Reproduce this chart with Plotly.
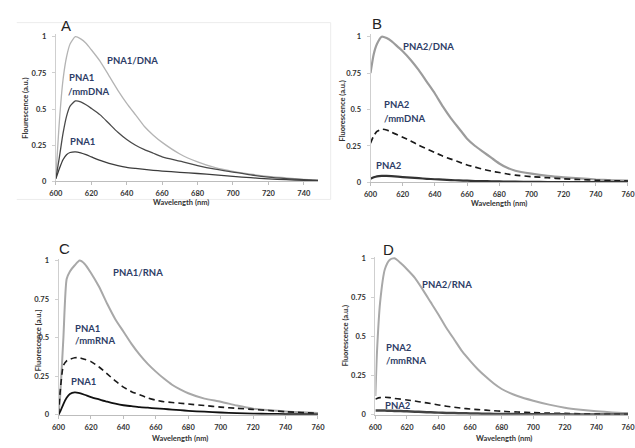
import plotly.graph_objects as go

W, H = 635, 448

# ---------------- data ----------------
wl_a = [600, 602, 604, 606, 608, 611, 614, 617, 620, 625, 630, 635, 640, 645, 650, 655, 660,
        670, 680, 690, 700, 710, 720, 730, 740, 748]
a_pna1_dna = [0.03, 0.42, 0.70, 0.86, 0.95, 1.0, 0.985, 0.955, 0.91, 0.83, 0.73, 0.63, 0.54, 0.46,
              0.38, 0.32, 0.27, 0.19, 0.135, 0.095, 0.07, 0.05, 0.035, 0.025, 0.015, 0.01]
a_pna1_mmdna = [0.02, 0.17, 0.33, 0.45, 0.52, 0.556, 0.55, 0.53, 0.505, 0.46, 0.40, 0.34, 0.29,
                0.25, 0.22, 0.195, 0.17, 0.14, 0.11, 0.085, 0.065, 0.045, 0.03, 0.02, 0.012, 0.008]
a_pna1 = [0.02, 0.09, 0.15, 0.185, 0.2, 0.205, 0.198, 0.185, 0.17, 0.145, 0.125, 0.11, 0.098,
          0.09, 0.083, 0.077, 0.072, 0.063, 0.055, 0.045, 0.035, 0.026, 0.018, 0.012, 0.008, 0.006]

wl_b = [600, 602, 604, 607, 610, 613, 617, 620, 625, 630, 635, 640, 645, 650, 655, 660, 665, 670,
        675, 680, 685, 690, 700, 710, 720, 730, 740, 750, 760]
b_pna2_dna = [0.75, 0.88, 0.95, 1.0, 0.99, 0.97, 0.93, 0.90, 0.84, 0.77, 0.69, 0.61, 0.52, 0.44,
              0.37, 0.30, 0.25, 0.21, 0.17, 0.13, 0.10, 0.08, 0.06, 0.045, 0.035, 0.028, 0.02,
              0.015, 0.012]
b_pna2_mmdna = [0.27, 0.32, 0.35, 0.365, 0.36, 0.345, 0.325, 0.31, 0.285, 0.255, 0.23, 0.205,
                0.18, 0.16, 0.14, 0.12, 0.105, 0.09, 0.078, 0.068, 0.058, 0.05, 0.04, 0.032,
                0.025, 0.02, 0.015, 0.012, 0.01]
b_pna2 = [0.025, 0.035, 0.042, 0.045, 0.045, 0.043, 0.04, 0.037, 0.033, 0.029, 0.025, 0.022,
          0.019, 0.016, 0.014, 0.012, 0.01, 0.009, 0.008, 0.007, 0.006, 0.005, 0.004, 0.003,
          0.003, 0.002, 0.002, 0.002, 0.002]

wl_c = [600, 601, 603, 605, 607, 610, 613, 616, 620, 625, 630, 635, 640, 645, 650, 655, 660, 665,
        670, 675, 680, 690, 700, 710, 720, 730, 740, 750, 760]
c_pna1_rna = [0.0, 0.12, 0.50, 0.88, 0.93, 0.97, 1.0, 0.98, 0.92, 0.83, 0.72, 0.62, 0.54, 0.46,
              0.39, 0.33, 0.28, 0.235, 0.195, 0.165, 0.14, 0.105, 0.085, 0.06, 0.04, 0.03,
              0.022, 0.016, 0.012]
c_pna1_mmrna = [0.0, 0.15, 0.32, 0.35, 0.36, 0.37, 0.37, 0.36, 0.345, 0.31, 0.265, 0.22, 0.18,
                0.15, 0.13, 0.11, 0.095, 0.085, 0.08, 0.075, 0.07, 0.06, 0.05, 0.042, 0.035,
                0.028, 0.02, 0.015, 0.01]
c_pna1 = [0.0, 0.02, 0.07, 0.11, 0.135, 0.145, 0.14, 0.13, 0.115, 0.10, 0.085, 0.072, 0.062,
          0.056, 0.05, 0.046, 0.042, 0.038, 0.034, 0.03, 0.026, 0.02, 0.015, 0.011, 0.008,
          0.006, 0.005, 0.004, 0.003]

wl_d = [600, 601, 603, 606, 609, 612, 616, 620, 625, 630, 635, 640, 645, 650, 655, 660, 665, 670,
        675, 680, 685, 690, 700, 710, 720, 730, 740, 750, 760]
d_pna2_rna = [0.12, 0.40, 0.72, 0.93, 0.99, 1.0, 0.97, 0.93, 0.875, 0.80, 0.72, 0.64, 0.555,
              0.48, 0.405, 0.345, 0.29, 0.243, 0.20, 0.165, 0.14, 0.12, 0.09, 0.065, 0.045,
              0.032, 0.022, 0.015, 0.011]
d_pna2_mmrna = [0.10, 0.105, 0.11, 0.112, 0.11, 0.105, 0.10, 0.095, 0.088, 0.08, 0.072, 0.063,
                0.055, 0.048, 0.042, 0.037, 0.033, 0.03, 0.026, 0.023, 0.02, 0.018, 0.014,
                0.011, 0.009, 0.007, 0.006, 0.005, 0.004]
d_pna2 = [0.028, 0.028, 0.028, 0.027, 0.026, 0.025, 0.024, 0.022, 0.02, 0.018, 0.016, 0.014,
          0.012, 0.011, 0.01, 0.009, 0.008, 0.007, 0.006, 0.005, 0.005, 0.004, 0.004, 0.003,
          0.003, 0.002, 0.002, 0.002, 0.002]

x_ticks = [600, 620, 640, 660, 680, 700, 720, 740, 760]
y_ticks = [0, 0.25, 0.5, 0.75, 1]
y_tick_text = ["0", "0.25", "0.5", "0.75", "1"]

# ---------------- helpers ----------------
def px(x):
    return x / W

def py(y):
    return 1 - y / H

fig = go.Figure()

def line(x, y, ax, color, width, dash="solid"):
    fig.add_trace(go.Scatter(
        x=x, y=y, mode="lines", xaxis="x" + ax, yaxis="y" + ax,
        line=dict(color=color, width=width, dash=dash, shape="spline", smoothing=0.6),
        showlegend=False, hoverinfo="skip"))

line(wl_a, a_pna1_dna, "", "#b4b4b4", 1.3)
line(wl_a, a_pna1_mmdna, "", "#4a4a4a", 1.3)
line(wl_a, a_pna1, "", "#3c3c3c", 1.3)

line(wl_b, b_pna2_dna, "2", "#9c9c9c", 2.2)
line(wl_b, b_pna2_mmdna, "2", "#1a1a1a", 1.7, "6px,4px")
line(wl_b, b_pna2, "2", "#333333", 2.2)

line(wl_c, c_pna1_rna, "3", "#a8a8a8", 2.0)
line(wl_c, c_pna1_mmrna, "3", "#1a1a1a", 1.6, "6px,4px")
line(wl_c, c_pna1, "3", "#111111", 1.8)

line(wl_d, d_pna2_rna, "4", "#a8a8a8", 2.0)
line(wl_d, d_pna2_mmrna, "4", "#1a1a1a", 1.6, "6px,4px")
line(wl_d, d_pna2, "4", "#444444", 2.5)

tickfont = dict(family="Lato", size=7.5, color="#333333", weight="bold")

def xaxis(dom, rng, anchor):
    return dict(domain=dom, range=rng, anchor=anchor, tickvals=x_ticks, ticks="outside",
                ticklen=3, tickcolor="#bdbdbd", showline=True, linecolor="#bdbdbd",
                linewidth=1, showgrid=False, zeroline=False, tickfont=tickfont,
                ticklabelstandoff=2, ticklabeloverflow="allow")

def yaxis(dom, rng, anchor):
    return dict(domain=dom, range=rng, anchor=anchor, tickvals=y_ticks, ticktext=y_tick_text,
                ticks="outside", ticklen=3, tickcolor="#cfcfcf", showline=True,
                linecolor="#cfcfcf", linewidth=1, showgrid=False, zeroline=False,
                tickfont=tickfont, ticklabelstandoff=4)

fig.update_layout(
    width=W, height=H, margin=dict(l=0, r=0, t=0, b=0),
    paper_bgcolor="white", plot_bgcolor="rgba(0,0,0,0)",
    xaxis=xaxis([px(50), px(318)], [600, 748], "y"),
    yaxis=yaxis([py(181.7), py(31.4)], [0, 1.02], "x"),
    xaxis2=xaxis([px(371.7), 1.0], [600, 760], "y2"),
    yaxis2=yaxis([py(182.7), py(31.3)], [0, 1.02], "x2"),
    xaxis3=xaxis([px(52.7), px(318)], [600, 760], "y3"),
    yaxis3=yaxis([py(419.3), py(260.7)], [0, 1.01], "x3"),
    xaxis4=xaxis([px(376.7), 1.0], [600, 760], "y4"),
    yaxis4=yaxis([py(419.3), py(258.4)], [0, 1.01], "x4"),
)

ann = []
navy = "#2d3d66"

def text(x, y, s, size=9.5, color=navy, weight="bold", family="Lato", xanchor="left",
         angle=0):
    ann.append(dict(x=px(x), y=py(y), xref="paper", yref="paper", text=s, showarrow=False,
                    xanchor=xanchor, yanchor="middle", textangle=angle,
                    font=dict(family=family, size=size, color=color, weight=weight)))

# panel letters
for (x, y, s) in [(60, 22.5, "A"), (378, 21, "B"), (58.7, 250, "C"), (390, 251, "D")]:
    text(x, y, s, size=15, color="#222222", weight="normal", family="Liberation Sans",
         xanchor="center")

# curve labels
text(100, 59, "PNA1/DNA")
text(61, 75.8, "PNA1")
text(60, 90.5, "/mmDNA")
text(62, 141, "PNA1")

text(403, 44, "PNA2/DNA")
text(383, 103, "PNA2")
text(383, 117.5, "/mmDNA")
text(375, 165, "PNA2")

text(106, 274.5, "PNA1/RNA")
text(67, 331, "PNA1")
text(67, 344, "/mmRNA")
text(63, 385, "PNA1")

text(422, 286.5, "PNA2/RNA")
text(385, 351, "PNA2")
text(385, 364.5, "/mmRNA")
text(384, 410, "PNA2")

# axis titles
axt = dict(size=7.5, color="#333333", weight="bold", family="Lato", xanchor="center")
text(178, 203.5, "Wavelength (nm)", **axt)
text(503, 204, "Wavelength (nm)", **axt)
text(177, 443, "Wavelength (nm)", **axt)
text(508, 443, "Wavelength (nm)", **axt)
text(18, 107, "Flourescence (a.u.)", angle=-90, **axt)
text(343, 110, "Fluorescence (a.u.)", angle=-90, **axt)
text(33, 343, "Fluorescence [a.u.]", angle=-90, **axt)
text(347, 339, "Fluorescence (a.u.)", angle=-90, **axt)

fig.update_layout(annotations=ann)

# faint frame around panel A
box = "#ececec"
for (x0, y0, x1, y1) in [(10, 20, 331, 20), (331, 20, 331, 200), (10, 200, 331, 200)]:
    fig.add_shape(type="line", xref="paper", yref="paper", x0=px(x0), y0=py(y0), x1=px(x1),
                  y1=py(y1), line=dict(color=box, width=1))

fig.write_html("out.html", config={"displayModeBar": False},
               post_script="document.body.style.margin='0';document.body.style.overflow='hidden';")
